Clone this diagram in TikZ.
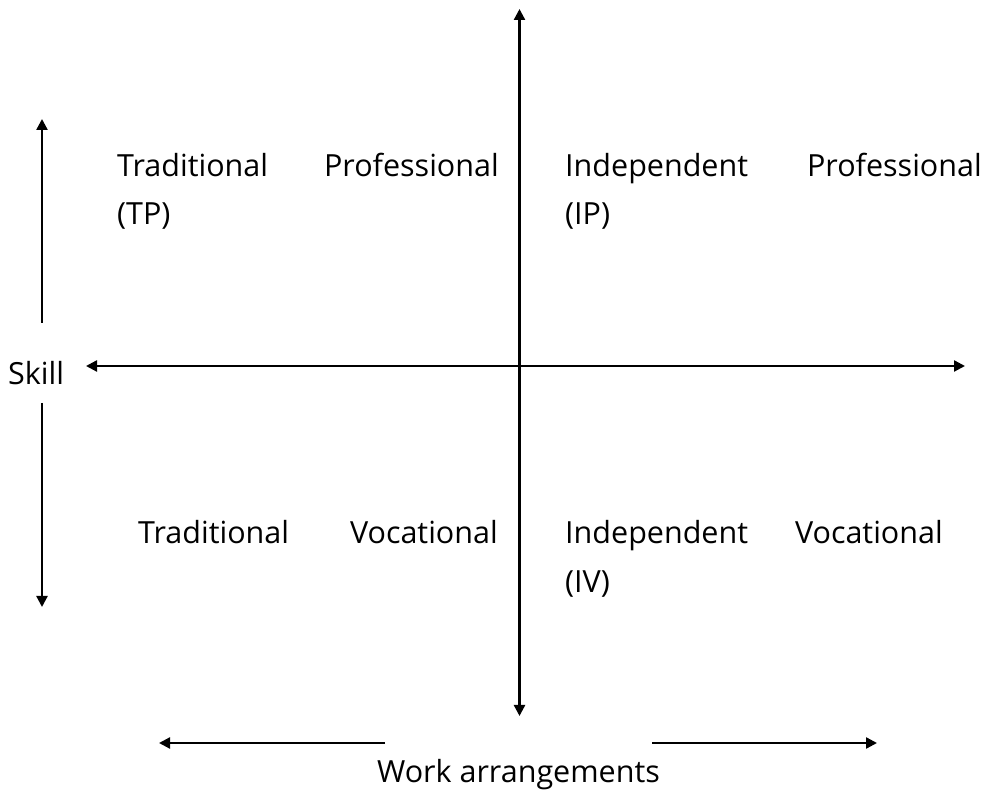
\documentclass[tikz,border=0pt]{standalone}
\usepackage{fontspec}
\setmainfont{Open Sans}
\usetikzlibrary{arrows.meta}
\begin{document}
\begin{tikzpicture}[x=1pt,y=1pt,
  tip/.style={Triangle[length=11pt,width=11pt]},
  axis/.style={line width=2.3pt,-{Triangle[length=11pt,width=11pt]}},
  axis2/.style={line width=2.3pt,{Triangle[length=11pt,width=11pt]}-{Triangle[length=11pt,width=11pt]}},
  lbl/.style={inner sep=0pt,font=\fontsize{30.5}{36}\selectfont}]
\useasboundingbox (0,0) rectangle (985,792);
% main axes
\coordinate (vt) at (519.5,783);
\coordinate (vb) at (519.5,76);
\coordinate (hl) at (86,426);
\coordinate (hr) at (965,426);
\draw[axis2] (vb) -- (vt);
\draw[axis2] (hl) -- (hr);
% skill arrows
\coordinate (su0) at (42,469);
\coordinate (su1) at (42,673);
\coordinate (sd0) at (42,389);
\coordinate (sd1) at (42,185);
\draw[axis] (su0) -- (su1);
\draw[axis] (sd0) -- (sd1);
% work arrangement arrows
\coordinate (wl0) at (385,49);
\coordinate (wl1) at (159,49);
\coordinate (wr0) at (652,49);
\coordinate (wr1) at (877,49);
\draw[axis] (wl0) -- (wl1);
\draw[axis] (wr0) -- (wr1);
% labels
\node[lbl,anchor=base west] (skill) at (8,407) {Skill};
\node[lbl,anchor=base] (work) at (518.5,9) {Work arrangements};
% TP
\node[lbl,anchor=base west] (tp1) at (117,615) {Traditional};
\node[lbl,anchor=base east] (tp2) at (499,615) {Professional};
\node[lbl,anchor=base west] (tp3) at (117,567) {(TP)};
% IP
\node[lbl,anchor=base west] (ip1) at (565,615) {Independent};
\node[lbl,anchor=base east] (ip2) at (982,615) {Professional};
\node[lbl,anchor=base west] (ip3) at (565,567) {(IP)};
% TV
\node[lbl,anchor=base west] (tv1) at (138,248) {Traditional};
\node[lbl,anchor=base east] (tv2) at (498,248) {Vocational};
% IV
\node[lbl,anchor=base west] (iv1) at (565,248) {Independent};
\node[lbl,anchor=base east] (iv2) at (943,248) {Vocational};
\node[lbl,anchor=base west] (iv3) at (565,199) {(IV)};
\end{tikzpicture}
\end{document}
